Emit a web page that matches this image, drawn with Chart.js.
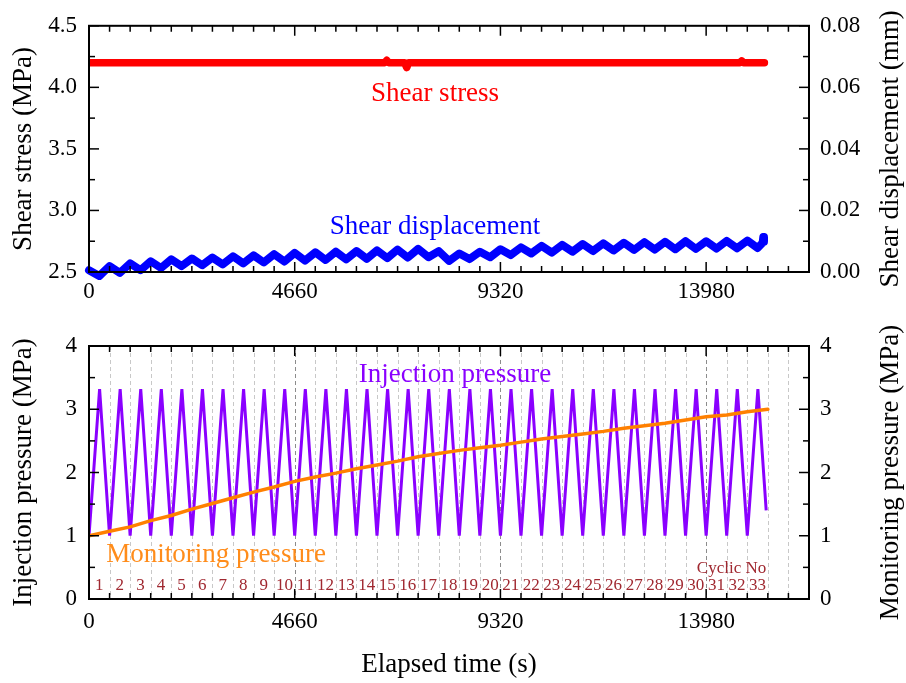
<!DOCTYPE html>
<html>
<head>
<meta charset="utf-8">
<script src="https://cdn.jsdelivr.net/npm/chart.js@4.4.1/dist/chart.umd.min.js"></script>
<style>
  body { margin: 0; background: #fff; }
  canvas { position: absolute; left: 0; }
</style>
</head>
<body>
<canvas id="topChart" width="906" height="310" style="top:0"></canvas>
<canvas id="bottomChart" width="906" height="373" style="top:310px"></canvas>
<script>
const serif = "'Liberation Serif', 'Times New Roman', serif";

// elapsed time axis (s)
const xMax = 16310;
const xMajor = [0, 4660, 9320, 13980];
const cycleStart = [0, 466, 932, 1398, 1864, 2330, 2796, 3262, 3728, 4194,
  4660, 5126, 5592, 6058, 6524, 6990, 7456, 7922, 8388, 8854,
  9320, 9786, 10252, 10718, 11184, 11650, 12116, 12582, 13048, 13514,
  13980, 14446, 14912, 15378];
const cycleNo = ['1','2','3','4','5','6','7','8','9','10','11','12','13','14','15','16','17',
  '18','19','20','21','22','23','24','25','26','27','28','29','30','31','32','33'];

// shear stress (MPa)
const stressTime = [0, 6700, 6744, 6790, 7150, 7197, 7240, 14740, 14784, 14830, 15300];
const stressVal  = [4.2, 4.2, 4.22, 4.2, 4.2, 4.16, 4.2, 4.2, 4.215, 4.2, 4.2];

// shear displacement (mm)
const dispTime = [0,
  233, 466, 699, 932, 1165, 1398, 1631, 1864, 2097, 2330,
  2563, 2796, 3029, 3262, 3495, 3728, 3961, 4194, 4427, 4660,
  4893, 5126, 5359, 5592, 5825, 6058, 6291, 6524, 6757, 6990,
  7223, 7456, 7689, 7922, 8155, 8388, 8621, 8854, 9087, 9320,
  9553, 9786, 10019, 10252, 10485, 10718, 10951, 11184, 11417, 11650,
  11883, 12116, 12349, 12582, 12815, 13048, 13281, 13514, 13747, 13980,
  14213, 14446, 14679, 14912,
  15145, 15260, 15275, 15290];
const dispVal = [0.0006,
  -0.0013, 0.0019, -0.0003, 0.0028, 0.0006, 0.0035, 0.0013, 0.0041, 0.0019, 0.0044,
  0.0022, 0.0047, 0.0025, 0.0051, 0.0028, 0.0054, 0.0031, 0.0058, 0.0034, 0.0062,
  0.0037, 0.0064, 0.0039, 0.0066, 0.0041, 0.0068, 0.0043, 0.0070, 0.0045, 0.0073,
  0.0047, 0.0075, 0.0048, 0.0068, 0.0036, 0.0060, 0.0042, 0.0066, 0.0048, 0.0074,
  0.0055, 0.0080, 0.0060, 0.0085, 0.0063, 0.0088, 0.0066, 0.0091, 0.0068, 0.0093,
  0.0070, 0.0095, 0.0072, 0.0097, 0.0073, 0.0098, 0.0074, 0.0100, 0.0075, 0.0100,
  0.0076, 0.0101, 0.0077, 0.0102,
  0.0078, 0.0095, 0.0114, 0.0098];

// injection pressure (MPa): low / peak of every cycle
const injTime = [
  0, 240, 466, 706, 932, 1172, 1398, 1638, 1864, 2104,
  2330, 2570, 2796, 3036, 3262, 3502, 3728, 3968, 4194, 4434,
  4660, 4900, 5126, 5366, 5592, 5832, 6058, 6298, 6524, 6764,
  6990, 7230, 7456, 7696, 7922, 8162, 8388, 8628, 8854, 9094,
  9320, 9560, 9786, 10026, 10252, 10492, 10718, 10958, 11184, 11424,
  11650, 11890, 12116, 12356, 12582, 12822, 13048, 13288, 13514, 13754,
  13980, 14220, 14446, 14686, 14912, 15152, 15340];
const injVal = [
  1.0, 3.32, 1.0, 3.32, 1.0, 3.32, 1.0, 3.32, 1.0, 3.32,
  1.0, 3.32, 1.0, 3.32, 1.0, 3.32, 1.0, 3.32, 1.0, 3.32,
  1.0, 3.32, 1.0, 3.32, 1.0, 3.32, 1.0, 3.32, 1.0, 3.32,
  1.0, 3.32, 1.0, 3.32, 1.0, 3.32, 1.0, 3.32, 1.0, 3.32,
  1.0, 3.32, 1.0, 3.32, 1.0, 3.32, 1.0, 3.32, 1.0, 3.32,
  1.0, 3.32, 1.0, 3.32, 1.0, 3.32, 1.0, 3.32, 1.0, 3.32,
  1.0, 3.32, 1.0, 3.32, 1.0, 3.32, 1.4];

// monitoring pressure (MPa) at each cycle boundary
const monTime = cycleStart;
const monVal = [1.00, 1.07, 1.14, 1.24, 1.32, 1.42, 1.51, 1.60, 1.69, 1.77,
  1.86, 1.93, 1.99, 2.06, 2.12, 2.18, 2.25, 2.30, 2.35, 2.39,
  2.43, 2.48, 2.53, 2.57, 2.61, 2.65, 2.70, 2.74, 2.78, 2.83,
  2.88, 2.91, 2.96, 3.00];

const pts = (xs, ys) => xs.map((x, i) => ({ x: x, y: ys[i] }));

// minor x ticks every cycle length
const xMinor = [];
for (let t = 0; t <= xMax; t += 466) xMinor.push(t);

const tickFont = { family: serif, size: 23 };
const titleFont = { family: serif, size: 27 };

// frame, inward ticks, dashed cycle lines and in-plot labels
const framePlugin = {
  id: 'frame',
  beforeDatasetsDraw(chart, args, opts) {
    if (!opts.cycleLines) return;
    const { ctx, chartArea: a } = chart;
    const x = chart.scales.x;
    ctx.save();
    ctx.lineWidth = 1;
    ctx.setLineDash([4, 3]);
    xMinor.forEach(t => {
      if (t === 0 || t >= xMax) return;
      const px = Math.round(x.getPixelForValue(t)) + 0.5;
      ctx.strokeStyle = t % 4660 === 0 ? '#8c8c8c' : '#c8c8c8';
      ctx.beginPath();
      ctx.moveTo(px, a.top);
      ctx.lineTo(px, a.bottom);
      ctx.stroke();
    });
    ctx.restore();
  },
  afterDatasetsDraw(chart, args, opts) {
    const { ctx, chartArea: a } = chart;
    const x = chart.scales.x;
    ctx.save();
    ctx.strokeStyle = '#000';
    ctx.lineWidth = 1.5;
    xMinor.forEach(t => {
      const px = x.getPixelForValue(t);
      const len = t % 4660 === 0 ? 10 : 6;
      ctx.beginPath();
      ctx.moveTo(px, a.bottom); ctx.lineTo(px, a.bottom - len);
      ctx.moveTo(px, a.top); ctx.lineTo(px, a.top + len);
      ctx.stroke();
    });
    opts.yTicks.forEach(d => {
      const s = chart.scales[d.id];
      for (let v = s.min, i = 0; v <= s.max + 1e-9; v = s.min + (++i) * d.minor) {
        const py = s.getPixelForValue(v);
        const len = i % 2 === 0 ? 10 : 6;
        ctx.beginPath();
        if (d.side === 'left') { ctx.moveTo(a.left, py); ctx.lineTo(a.left + len, py); }
        else { ctx.moveTo(a.right, py); ctx.lineTo(a.right - len, py); }
        ctx.stroke();
      }
    });
    ctx.lineWidth = 2;
    ctx.strokeRect(a.left, a.top, a.right - a.left, a.bottom - a.top);

    ctx.textAlign = 'center';
    ctx.textBaseline = 'alphabetic';
    (opts.labels || []).forEach(l => {
      ctx.fillStyle = l.color;
      ctx.font = l.size + 'px ' + serif;
      ctx.fillText(l.text, x.getPixelForValue(l.x), chart.scales[l.axis].getPixelForValue(l.y));
    });
    if (opts.cycleLabels) {
      ctx.fillStyle = '#a02830';
      ctx.font = '17px ' + serif;
      const yS = chart.scales.y;
      cycleNo.forEach((n, i) => {
        const mid = (cycleStart[i] + cycleStart[i + 1]) / 2;
        ctx.fillText(n, x.getPixelForValue(mid), yS.getPixelForValue(0.142));
      });
    }

    // right-hand axis title, read bottom to top like the left one
    if (opts.rightTitle) {
      ctx.translate(chart.width - 15, (a.top + a.bottom) / 2);
      ctx.rotate(-Math.PI / 2);
      ctx.fillStyle = '#000';
      ctx.font = titleFont.size + 'px ' + serif;
      ctx.textBaseline = 'middle';
      ctx.fillText(opts.rightTitle, 0, 0);
    }
    ctx.restore();
  }
};

function xAxis(height, pad, title) {
  return {
    type: 'linear', position: 'bottom', min: 0, max: xMax,
    afterBuildTicks: s => { s.ticks = xMajor.map(v => ({ value: v })); },
    afterFit: s => { s.height = height; },
    grid: { display: false, drawTicks: false }, border: { display: false },
    ticks: { font: tickFont, color: '#000', padding: pad, maxRotation: 0, autoSkip: false,
      callback: v => String(v) },
    title: title ? { display: true, text: title, font: titleFont, color: '#000', padding: { bottom: 2 } } : { display: false }
  };
}

function yAxis(side, min, max, major, digits, title, tpad) {
  return {
    type: 'linear', position: side, min: min, max: max,
    afterBuildTicks: s => { s.ticks = major.map(v => ({ value: v })); },
    afterFit: s => { s.width = side === 'left' ? 89 : 97; },
    grid: { display: false, drawTicks: false }, border: { display: false },
    ticks: { font: tickFont, color: '#000', padding: side === 'left' ? 12 : 11,
      callback: v => v.toFixed(digits) },
    title: title ? { display: true, text: title, font: titleFont, color: '#000', padding: { top: tpad, bottom: 0 } } : { display: false }
  };
}

const common = {
  responsive: false,
  animation: false,
  elements: { point: { radius: 0 }, line: { tension: 0 } }
};
const hidden = { legend: { display: false }, tooltip: { enabled: false } };

new Chart(document.getElementById('topChart'), {
  type: 'line',
  data: {
    datasets: [
      { data: pts(stressTime, stressVal), yAxisID: 'y', borderColor: '#ff0000', borderWidth: 7.5,
        borderCapStyle: 'round', borderJoinStyle: 'round' },
      { data: pts(dispTime, dispVal), yAxisID: 'y2', borderColor: '#0000ff', borderWidth: 8,
        borderCapStyle: 'round', borderJoinStyle: 'round', clip: false }
    ]
  },
  options: Object.assign({}, common, {
    layout: { padding: { top: 19, left: 0, right: 0, bottom: 0 } },
    scales: {
      x: xAxis(38, 6, null),
      y: yAxis('left', 2.5, 4.5, [2.5, 3.0, 3.5, 4.0, 4.5], 1, 'Shear stress (MPa)', 8),
      y2: yAxis('right', 0, 0.08, [0, 0.02, 0.04, 0.06, 0.08], 2, null, 0)
    },
    plugins: Object.assign({}, hidden, {
      frame: {
        rightTitle: 'Shear displacement (mm)',
        yTicks: [{ id: 'y', side: 'left', minor: 0.25 }, { id: 'y2', side: 'right', minor: 0.01 }],
        labels: [
          { text: 'Shear stress', x: 7838, y: 3.886, axis: 'y', color: '#ff0000', size: 27 },
          { text: 'Shear displacement', x: 7838, y: 2.806, axis: 'y', color: '#0000ff', size: 27 }
        ]
      }
    })
  }),
  plugins: [framePlugin]
});

new Chart(document.getElementById('bottomChart'), {
  type: 'line',
  data: {
    datasets: [
      { data: pts(monTime, monVal), yAxisID: 'y2', borderColor: '#ff8000', borderWidth: 3.5,
        borderCapStyle: 'round' },
      { data: pts(injTime, injVal), yAxisID: 'y', borderColor: '#8a00ff', borderWidth: 3,
        borderJoinStyle: 'miter' }
    ]
  },
  options: Object.assign({}, common, {
    layout: { padding: { top: 36, left: 0, right: 0, bottom: 0 } },
    scales: {
      x: xAxis(84, 9, 'Elapsed time (s)'),
      y: yAxis('left', 0, 4, [0, 1, 2, 3, 4], 0, 'Injection pressure (MPa)', 8),
      y2: yAxis('right', 0, 4, [0, 1, 2, 3, 4], 0, null, 0)
    },
    plugins: Object.assign({}, hidden, {
      frame: {
        rightTitle: 'Monitoring pressure (MPa)',
        cycleLines: true,
        cycleLabels: true,
        yTicks: [{ id: 'y', side: 'left', minor: 0.5 }, { id: 'y2', side: 'right', minor: 0.5 }],
        labels: [
          { text: 'Injection pressure', x: 8291, y: 3.431, axis: 'y', color: '#8a00ff', size: 27 },
          { text: 'Monitoring pressure', x: 2877, y: 0.59, axis: 'y', color: '#ff8c1a', size: 27 },
          { text: 'Cyclic No', x: 14555, y: 0.406, axis: 'y', color: '#a02830', size: 17 }
        ]
      }
    })
  }),
  plugins: [framePlugin]
});
</script>
</body>
</html>
